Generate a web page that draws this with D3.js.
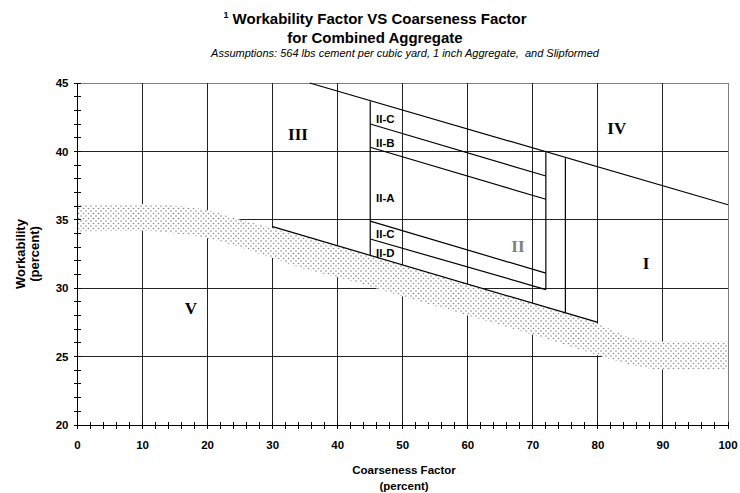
<!DOCTYPE html>
<html>
<head>
<meta charset="utf-8">
<script src="https://cdn.jsdelivr.net/npm/d3@7"></script>
<style>
  body { margin: 0; background: #fff; }
  svg { display: block; font-family: "Liberation Sans", Arial, sans-serif; }
</style>
</head>
<body>
<svg id="chart" width="740" height="493"></svg>
<script>
// axis ticks
var xMajor = [0, 10, 20, 30, 40, 50, 60, 70, 80, 90, 100];
var xMinor = d3.range(0, 101, 2);
var yMajor = [20, 25, 30, 35, 40, 45];
var yMinor = d3.range(20, 46, 1);

// the dotted band (coarseness x, upper and lower workability)
var bandX      = [0,     10,    15,    20,    25,   30,   35,   40,   50,   60,   70,   80,   85,   90,   100];
var bandTop    = [36.15, 36.15, 36.05, 35.7,  35.0, 34.4, 33.7, 33.1, 31.7, 30.3, 28.9, 27.4, 26.4, 26.1, 26.1];
var bandBottom = [34.15, 34.2,  34.0,  33.65, 33.0, 32.2, 31.4, 30.8, 29.4, 28.0, 26.6, 25.1, 24.4, 24.05, 24.05];

// zone boundary lines
var boundaries = [
  [[35.7, 45], [100, 36.1]],
  [[45, 42.0], [72, 38.2]],
  [[45, 40.3], [72, 36.5]],
  [[45, 34.9], [72, 31.1]],
  [[45, 33.6], [72, 29.9]],
  [[30, 34.5], [80, 27.5]],
  [[45, 43.67], [45, 32.4]],
  [[72, 39.94], [72, 29.9]],
  [[75, 39.5], [75, 28.2]]
];

var zones = [
  { t: "III", x: 33.9, y: 40.8, c: "#000" },
  { t: "IV",  x: 82.9, y: 41.3, c: "#000" },
  { t: "II",  x: 67.7, y: 32.67, c: "#808080" },
  { t: "I",   x: 87.4, y: 31.4, c: "#000" },
  { t: "V",   x: 17.45, y: 28.15, c: "#000" }
];

var subZones = [
  { t: "II-C", x: 45.9, y: 42.05 },
  { t: "II-B", x: 45.9, y: 40.34 },
  { t: "II-A", x: 45.9, y: 36.32 },
  { t: "II-C", x: 45.9, y: 33.65 },
  { t: "II-D", x: 45.9, y: 32.3 }
];

var svg = d3.select("#chart");
var x = d3.scaleLinear().domain([0, 100]).range([77.5, 728]);
var y = d3.scaleLinear().domain([20, 45]).range([425, 83]);

// dotted pattern
var pat = svg.append("defs").append("pattern")
  .attr("id", "dots")
  .attr("patternUnits", "userSpaceOnUse")
  .attr("width", 5).attr("height", 5);
pat.append("rect").attr("width", 5).attr("height", 5).attr("fill", "#fff");
pat.append("circle").attr("cx", 1).attr("cy", 1).attr("r", 0.8).attr("fill", "#8a8a8a");
pat.append("circle").attr("cx", 3.5).attr("cy", 3.5).attr("r", 0.8).attr("fill", "#8a8a8a");

// grid
var grid = svg.append("g").attr("shape-rendering", "crispEdges");
grid.selectAll(".hg").data(yMajor.filter(function(d) { return d > 20; }))
  .enter().append("line")
    .attr("x1", x(0)).attr("x2", x(100))
    .attr("y1", function(d) { return y(d); }).attr("y2", function(d) { return y(d); })
    .attr("stroke", function(d) { return d == 45 ? "#808080" : "#222"; });
grid.selectAll(".vg").data(xMajor.filter(function(d) { return d > 0; }))
  .enter().append("line")
    .attr("y1", y(20)).attr("y2", y(45))
    .attr("x1", function(d) { return x(d); }).attr("x2", function(d) { return x(d); })
    .attr("stroke", function(d) { return d == 100 ? "#808080" : "#222"; });

// band
var band = d3.area()
  .x(function(d) { return x(d[0]); })
  .y0(function(d) { return y(d[2]); })
  .y1(function(d) { return y(d[1]); })
  .curve(d3.curveMonotoneX);
svg.append("path")
  .datum(bandX.map(function(d, i) { return [d, bandTop[i], bandBottom[i]]; }))
  .attr("d", band)
  .attr("fill", "url(#dots)");

// zone lines
svg.append("g").selectAll("line").data(boundaries)
  .enter().append("line")
    .attr("x1", function(d) { return x(d[0][0]); })
    .attr("y1", function(d) { return y(d[0][1]); })
    .attr("x2", function(d) { return x(d[1][0]); })
    .attr("y2", function(d) { return y(d[1][1]); })
    .attr("stroke", "#000")
    .attr("stroke-width", 1.2);

// axes
var axes = svg.append("g").attr("stroke", "#000").attr("shape-rendering", "crispEdges");
axes.append("line").attr("x1", x(0)).attr("x2", x(0)).attr("y1", y(20)).attr("y2", y(45));
axes.append("line").attr("x1", x(0)).attr("x2", x(100)).attr("y1", y(20)).attr("y2", y(20));
axes.selectAll(".ym").data(yMinor).enter().append("line")
  .attr("x1", x(0) - 4).attr("x2", x(0) + 3)
  .attr("y1", function(d) { return y(d); }).attr("y2", function(d) { return y(d); });
axes.selectAll(".xm").data(xMinor).enter().append("line")
  .attr("y1", y(20) - 3).attr("y2", y(20) + 4)
  .attr("x1", function(d) { return x(d); }).attr("x2", function(d) { return x(d); });

svg.append("g").selectAll("text").data(yMajor).enter().append("text")
  .attr("x", x(0) - 9).attr("y", function(d) { return y(d); })
  .attr("dy", "0.36em")
  .attr("text-anchor", "end")
  .attr("font-size", 11.5).attr("font-weight", "bold")
  .text(function(d) { return d; });

svg.append("g").selectAll("text").data(xMajor).enter().append("text")
  .attr("x", function(d) { return x(d); }).attr("y", 449)
  .attr("text-anchor", "middle")
  .attr("font-size", 11.5).attr("font-weight", "bold")
  .text(function(d) { return d; });

// axis titles
svg.append("text").attr("x", 404).attr("y", 474).attr("text-anchor", "middle")
  .attr("font-size", 11.5).attr("font-weight", "bold").text("Coarseness Factor");
svg.append("text").attr("x", 404).attr("y", 490).attr("text-anchor", "middle")
  .attr("font-size", 11.5).attr("font-weight", "bold").text("(percent)");
svg.append("text").attr("transform", "translate(25,254) rotate(-90)").attr("text-anchor", "middle")
  .attr("font-size", 13).attr("font-weight", "bold").text("Workability");
svg.append("text").attr("transform", "translate(39,254) rotate(-90)").attr("text-anchor", "middle")
  .attr("font-size", 13).attr("font-weight", "bold").text("(percent)");

// titles
var t1 = svg.append("text").attr("x", 375).attr("y", 24).attr("text-anchor", "middle")
  .attr("font-size", 15).attr("font-weight", "bold");
t1.append("tspan").attr("font-size", 9).attr("dy", -6).text("1");
t1.append("tspan").attr("dy", 6).text(" Workability Factor VS Coarseness Factor");
svg.append("text").attr("x", 375).attr("y", 43).attr("text-anchor", "middle")
  .attr("font-size", 15).attr("font-weight", "bold").text("for Combined Aggregate");
svg.append("text").attr("x", 405).attr("y", 57).attr("text-anchor", "middle")
  .attr("font-size", 11).attr("font-style", "italic").style("white-space", "pre")
  .text("Assumptions: 564 lbs cement per cubic yard, 1 inch Aggregate,  and Slipformed");

// zone labels
svg.append("g").selectAll("text").data(zones).enter().append("text")
  .attr("x", function(d) { return x(d.x); }).attr("y", function(d) { return y(d.y); })
  .attr("text-anchor", "middle")
  .attr("font-family", "'Liberation Serif', 'Times New Roman', serif")
  .attr("font-size", 17).attr("font-weight", "bold")
  .attr("fill", function(d) { return d.c; })
  .text(function(d) { return d.t; });

svg.append("g").selectAll("text").data(subZones).enter().append("text")
  .attr("x", function(d) { return x(d.x); }).attr("y", function(d) { return y(d.y); })
  .attr("font-size", 11.5).attr("font-weight", "bold")
  .text(function(d) { return d.t; });
</script>
</body>
</html>
